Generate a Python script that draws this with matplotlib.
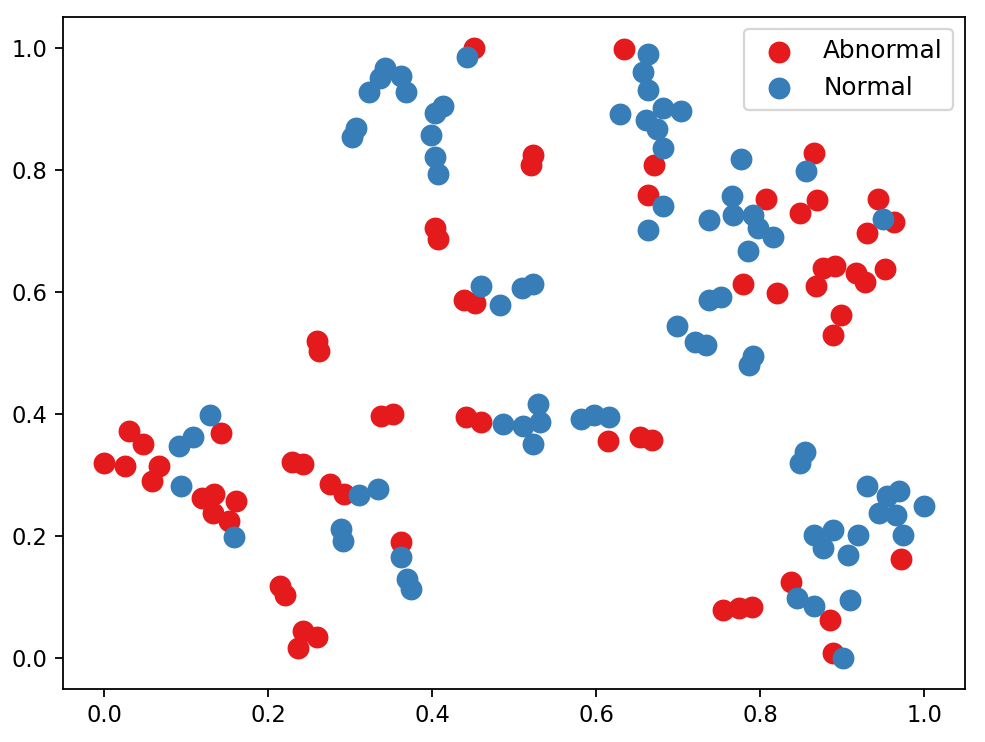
import matplotlib
matplotlib.use("Agg")
import matplotlib.pyplot as plt

# values
abnormal_x = [0.451, 0.403, 0.407, 0.260, 0.262, 0.439, 0.452,
              0.634, 0.523, 0.520, 0.671, 0.663, 0.865, 0.807, 0.869, 0.849,
              0.943, 0.963, 0.930, 0.779, 0.821, 0.877, 0.891, 0.868, 0.917,
              0.928, 0.952, 0.898, 0.889,
              0.000, 0.025, 0.031, 0.047, 0.067, 0.058, 0.143, 0.119, 0.134,
              0.161, 0.133, 0.152, 0.229, 0.243, 0.276, 0.293, 0.338, 0.352,
              0.441, 0.460, 0.362, 0.214, 0.221, 0.243, 0.260, 0.237,
              0.614, 0.654, 0.668, 0.972, 0.838, 0.754, 0.774, 0.790, 0.885, 0.889]
abnormal_y = [1.000, 0.705, 0.686, 0.520, 0.503, 0.586, 0.582,
              0.997, 0.824, 0.808, 0.808, 0.759, 0.828, 0.752, 0.750, 0.729,
              0.752, 0.714, 0.697, 0.613, 0.598, 0.639, 0.642, 0.609, 0.631,
              0.616, 0.637, 0.562, 0.529,
              0.320, 0.315, 0.372, 0.350, 0.315, 0.290, 0.368, 0.262, 0.269,
              0.257, 0.237, 0.225, 0.321, 0.318, 0.285, 0.269, 0.397, 0.400,
              0.395, 0.386, 0.190, 0.118, 0.103, 0.045, 0.035, 0.017,
              0.356, 0.362, 0.358, 0.163, 0.125, 0.079, 0.082, 0.083, 0.062, 0.009]

normal_x = [0.443, 0.342, 0.336, 0.362, 0.323, 0.368, 0.307, 0.302, 0.413,
            0.403, 0.398, 0.403, 0.407, 0.459, 0.483,
            0.663, 0.657, 0.663, 0.629, 0.682, 0.703, 0.661, 0.674, 0.681,
            0.776, 0.856, 0.765, 0.767, 0.791, 0.797, 0.816, 0.785, 0.738,
            0.681, 0.663, 0.950, 0.523, 0.509, 0.752, 0.738, 0.699, 0.720,
            0.734, 0.786, 0.791,
            0.129, 0.109, 0.091, 0.094, 0.158, 0.311, 0.334, 0.289, 0.291,
            0.362, 0.369, 0.374, 0.486,
            0.529, 0.511, 0.532, 0.523, 0.582, 0.597, 0.616, 0.855, 0.849,
            0.930, 0.955, 0.969, 0.945, 0.965, 1.000, 0.974, 0.865, 0.889,
            0.919, 0.876, 0.907, 0.845, 0.865, 0.910, 0.901]
normal_y = [0.984, 0.967, 0.950, 0.953, 0.927, 0.927, 0.868, 0.853, 0.904,
            0.893, 0.856, 0.821, 0.793, 0.609, 0.579,
            0.990, 0.960, 0.930, 0.892, 0.901, 0.896, 0.881, 0.867, 0.836,
            0.818, 0.798, 0.757, 0.726, 0.726, 0.705, 0.690, 0.667, 0.717,
            0.740, 0.701, 0.720, 0.613, 0.607, 0.592, 0.586, 0.544, 0.517,
            0.512, 0.480, 0.495,
            0.398, 0.362, 0.347, 0.282, 0.199, 0.267, 0.277, 0.211, 0.192,
            0.166, 0.130, 0.113, 0.384,
            0.416, 0.380, 0.386, 0.350, 0.392, 0.398, 0.395, 0.337, 0.320,
            0.282, 0.266, 0.274, 0.237, 0.235, 0.249, 0.202, 0.202, 0.210,
            0.202, 0.180, 0.169, 0.098, 0.086, 0.095, 0.000]

fig, ax = plt.subplots(figsize=(985 / 162, 742 / 162), dpi=162)
fig.subplots_adjust(left=0.064, right=0.980, bottom=0.072, top=0.977)

ax.scatter(abnormal_x, abnormal_y, s=76, color="#e41a1c", label="Abnormal")
ax.scatter(normal_x, normal_y, s=76, color="#377eb8", label="Normal")

ax.legend(loc="upper right", fontsize=11)
fig.savefig("out.png")
